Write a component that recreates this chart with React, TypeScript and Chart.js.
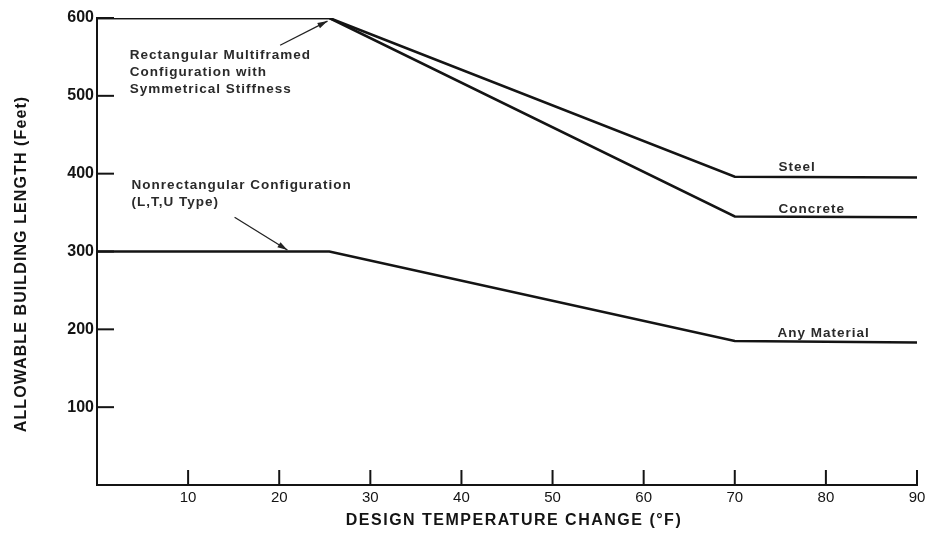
import React, { useRef, useEffect } from "react";
import { Chart, registerables } from "chart.js";

Chart.register(...registerables);

// ---- data ----
const temps = [0, 25.5, 70, 90];
const steel = [600, 600, 396, 395];
const concrete = [600, 600, 345, 344];
const anyMaterial = [300, 300, 185, 183];

const xTicks = [10, 20, 30, 40, 50, 60, 70, 80, 90];
const yTicks = [100, 200, 300, 400, 500, 600];

const xTitle = "DESIGN TEMPERATURE CHANGE (°F)";
const yTitle = "ALLOWABLE BUILDING LENGTH (Feet)";

// text notes anchored in data coordinates
const notes = [
  { x: 3.6, y: 552, lines: ["Rectangular Multiframed", "Configuration with", "Symmetrical Stiffness"] },
  { x: 3.8, y: 385, lines: ["Nonrectangular Configuration", "(L,T,U Type)"] },
  { x: 74.8, y: 408, lines: ["Steel"] },
  { x: 74.8, y: 354, lines: ["Concrete"] },
  { x: 74.7, y: 195, lines: ["Any Material"] },
];
const arrows = [
  { from: [20.1, 565], to: [25.3, 596] },
  { from: [15.1, 344], to: [20.9, 302] },
];

const INK = "#141414";

const decorPlugin = {
  id: "decor",
  afterDraw(chart: any) {
    const { ctx, scales, chartArea } = chart;
    const xs = scales.x;
    const ys = scales.y;
    ctx.save();
    // inward tick marks
    ctx.strokeStyle = INK;
    ctx.lineWidth = 2;
    xTicks.forEach((t) => {
      const px = xs.getPixelForValue(t);
      ctx.beginPath();
      ctx.moveTo(px, chartArea.bottom);
      ctx.lineTo(px, chartArea.bottom - 15);
      ctx.stroke();
    });
    yTicks.forEach((t) => {
      const py = ys.getPixelForValue(t);
      ctx.beginPath();
      ctx.moveTo(chartArea.left, py);
      ctx.lineTo(chartArea.left + 17, py);
      ctx.stroke();
    });

    // notes
    ctx.fillStyle = "#2a2a2a";
    ctx.font = "bold 13.5px 'Liberation Sans', Arial, sans-serif";
    ctx.textBaseline = "middle";
    ctx.textAlign = "left";
    (ctx as any).letterSpacing = "1px";
    notes.forEach((n) => {
      const px = xs.getPixelForValue(n.x);
      const py = ys.getPixelForValue(n.y);
      n.lines.forEach((l, i) => ctx.fillText(l, px, py + i * 17));
    });
    (ctx as any).letterSpacing = "0px";

    // arrows
    ctx.strokeStyle = "#222";
    ctx.fillStyle = "#222";
    ctx.lineWidth = 1.3;
    arrows.forEach((a) => {
      const x1 = xs.getPixelForValue(a.from[0]);
      const y1 = ys.getPixelForValue(a.from[1]);
      const x2 = xs.getPixelForValue(a.to[0]);
      const y2 = ys.getPixelForValue(a.to[1]);
      const ang = Math.atan2(y2 - y1, x2 - x1);
      ctx.beginPath();
      ctx.moveTo(x1, y1);
      ctx.lineTo(x2, y2);
      ctx.stroke();
      const L = 10, W = 3;
      ctx.beginPath();
      ctx.moveTo(x2, y2);
      ctx.lineTo(x2 - L * Math.cos(ang) + W * Math.sin(ang), y2 - L * Math.sin(ang) - W * Math.cos(ang));
      ctx.lineTo(x2 - L * Math.cos(ang) - W * Math.sin(ang), y2 - L * Math.sin(ang) + W * Math.cos(ang));
      ctx.closePath();
      ctx.fill();
    });

    // axis titles
    ctx.fillStyle = INK;
    ctx.font = "bold 16px 'Liberation Sans', Arial, sans-serif";
    ctx.textAlign = "center";
    ctx.textBaseline = "middle";
    (ctx as any).letterSpacing = "1.5px";
    ctx.fillText(xTitle, 514, 521);
    (ctx as any).letterSpacing = "1.1px";
    ctx.translate(22, 264);
    ctx.rotate(-Math.PI / 2);
    ctx.fillText(yTitle, 0, 0);
    (ctx as any).letterSpacing = "0px";
    ctx.restore();
  },
};

export default function App() {
  const ref = useRef<HTMLCanvasElement | null>(null);
  useEffect(() => {
    if (!ref.current) return;
    const lineDs = (label: string, data: number[]) => ({
      label,
      data: temps.map((t, i) => ({ x: t, y: data[i] })),
      borderColor: INK,
      borderWidth: 2.6,
      pointRadius: 0,
      tension: 0,
      fill: false,
    });
    const chart = new Chart(ref.current, {
      type: "line",
      data: {
        datasets: [
          lineDs("Steel", steel),
          lineDs("Concrete", concrete),
          lineDs("Any Material", anyMaterial),
        ],
      },
      options: {
        animation: false,
        responsive: false,
        maintainAspectRatio: false,
        layout: { padding: { top: 18, right: 14, left: 0, bottom: 0 } },
        plugins: { legend: { display: false }, tooltip: { enabled: false } },
        scales: {
          x: {
            type: "linear",
            min: 0,
            max: 90,
            afterBuildTicks: (s: any) => {
              s.ticks = xTicks.map((v) => ({ value: v }));
            },
            afterFit: (s: any) => {
              s.height = 48;
            },
            ticks: {
              color: INK,
              font: { family: "'Liberation Sans', Arial, sans-serif", size: 15 },
              padding: 4,
              maxRotation: 0,
            },
            grid: { display: true, drawOnChartArea: false, drawTicks: false },
            border: { display: true, color: INK, width: 2 },
          },
          y: {
            min: 0,
            max: 600,
            afterBuildTicks: (s: any) => {
              s.ticks = yTicks.map((v) => ({ value: v }));
            },
            afterFit: (s: any) => {
              s.width = 97;
            },
            ticks: {
              color: INK,
              font: { family: "'Liberation Sans', Arial, sans-serif", size: 16, weight: "bold" },
              padding: 3,
            },
            grid: { display: true, drawOnChartArea: false, drawTicks: false },
            border: { display: true, color: INK, width: 2 },
          },
        },
      },
      plugins: [decorPlugin],
    });
    return () => chart.destroy();
  }, []);
  return (
    <div style={{ position: "fixed", left: 0, top: 0, width: 931, height: 533, background: "#fff" }}>
      <canvas ref={ref} width={931} height={533} style={{ display: "block" }} />
    </div>
  );
}
